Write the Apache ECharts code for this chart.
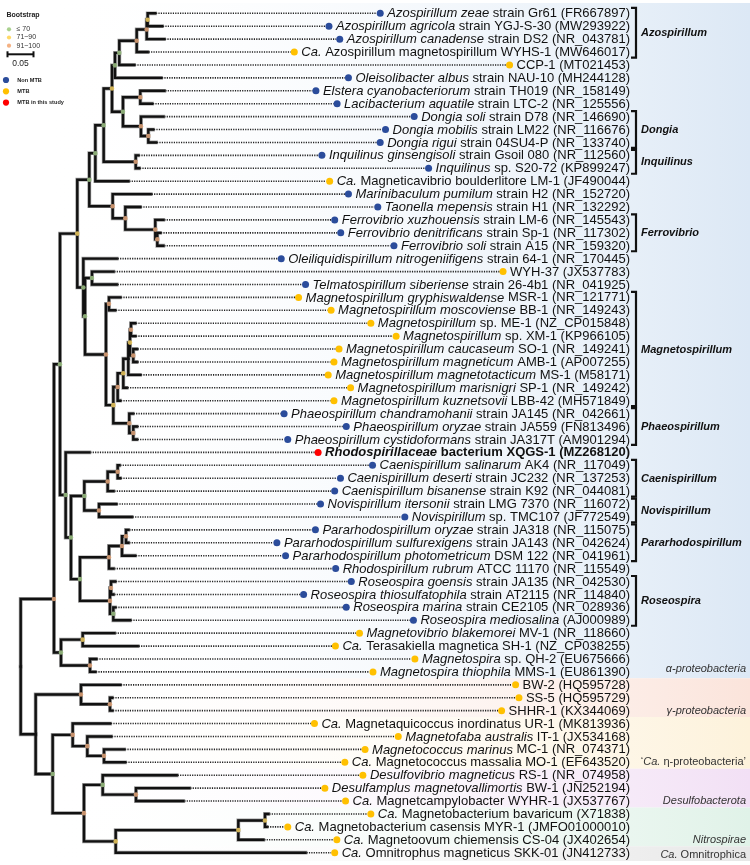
<!DOCTYPE html>
<html><head><meta charset="utf-8">
<script src="https://cdn.jsdelivr.net/npm/echarts@6/dist/echarts.min.js"></script>
<style>html,body{margin:0;padding:0;background:#fff}#c{width:750px;height:865px}</style>
</head><body><div id="c"></div>
<script>
// ---------------- DATA ----------------
const leafLabels = [
"{i|Azospirillum zeae} strain Gr61 (FR667897)",
"{i|Azospirillum agricola} strain YGJ-S-30 (MW293922)",
"{i|Azospirillum canadense} strain DS2 (NR_043781)",
"{i|Ca.} Azospirillum magnetospirillum WYHS-1 (MW646017)",
"CCP-1 (MT021453)",
"{i|Oleisolibacter albus} strain NAU-10 (MH244128)",
"{i|Elstera cyanobacteriorum} strain TH019 (NR_158149)",
"{i|Lacibacterium aquatile} strain LTC-2 (NR_125556)",
"{i|Dongia soli} strain D78 (NR_146690)",
"{i|Dongia mobilis} strain LM22 (NR_116676)",
"{i|Dongia rigui} strain 04SU4-P (NR_133740)",
"{i|Inquilinus ginsengisoli} strain Gsoil 080 (NR_112560)",
"{i|Inquilinus} sp. S20-72 (KP899247)",
"{i|Ca.} Magneticavibrio boulderlitore LM-1 (JF490044)",
"{i|Marinibaculum pumilum} strain H2 (NR_152720)",
"{i|Taonella mepensis} strain H1 (NR_132292)",
"{i|Ferrovibrio xuzhouensis} strain LM-6 (NR_145543)",
"{i|Ferrovibrio denitrificans} strain Sp-1 (NR_117302)",
"{i|Ferrovibrio soli} strain A15 (NR_159320)",
"{i|Oleiliquidispirillum nitrogeniifigens} strain 64-1 (NR_170445)",
"WYH-37 (JX537783)",
"{i|Telmatospirillum siberiense} strain 26-4b1 (NR_041925)",
"{i|Magnetospirillum gryphiswaldense} MSR-1 (NR_121771)",
"{i|Magnetospirillum moscoviense} BB-1 (NR_149243)",
"{i|Magnetospirillum} sp. ME-1 (NZ_CP015848)",
"{i|Magnetospirillum} sp. XM-1 (KP966105)",
"{i|Magnetospirillum caucaseum} SO-1 (NR_149241)",
"{i|Magnetospirillum magneticum} AMB-1 (AP007255)",
"{i|Magnetospirillum magnetotacticum} MS-1 (M58171)",
"{i|Magnetospirillum marisnigri} SP-1 (NR_149242)",
"{i|Magnetospirillum kuznetsovii} LBB-42 (MH571849)",
"{i|Phaeospirillum chandramohanii} strain JA145 (NR_042661)",
"{i|Phaeospirillum oryzae} strain JA559 (FN813496)",
"{i|Phaeospirillum cystidoformans} strain JA317T (AM901294)",
"{bi|Rhodospirillaceae}{b| bacterium XQGS-1 (MZ268120)}",
"{i|Caenispirillum salinarum} AK4 (NR_117049)",
"{i|Caenispirillum deserti} strain JC232 (NR_137253)",
"{i|Caenispirillum bisanense} strain K92 (NR_044081)",
"{i|Novispirillum itersonii} strain LMG 7370 (NR_116072)",
"{i|Novispirillum} sp. TMC107 (JF772549)",
"{i|Pararhodospirillum oryzae} strain JA318 (NR_115075)",
"{i|Pararhodospirillum sulfurexigens} strain JA143 (NR_042624)",
"{i|Pararhodospirillum photometricum} DSM 122 (NR_041961)",
"{i|Rhodospirillum rubrum} ATCC 11170 (NR_115549)",
"{i|Roseospira goensis} strain JA135 (NR_042530)",
"{i|Roseospira thiosulfatophila} strain AT2115 (NR_114840)",
"{i|Roseospira marina} strain CE2105 (NR_028936)",
"{i|Roseospira mediosalina} (AJ000989)",
"{i|Magnetovibrio blakemorei} MV-1 (NR_118660)",
"{i|Ca.} Terasakiella magnetica SH-1 (NZ_CP038255)",
"{i|Magnetospira} sp. QH-2 (EU675666)",
"{i|Magnetospira thiophila} MMS-1 (EU861390)",
"BW-2 (HQ595728)",
"SS-5 (HQ595729)",
"SHHR-1 (KX344069)",
"{i|Ca.} Magnetaquicoccus inordinatus UR-1 (MK813936)",
"{i|Magnetofaba australis} IT-1 (JX534168)",
"{i|Magnetococcus marinus} MC-1 (NR_074371)",
"{i|Ca.} Magnetococcus massalia MO-1 (EF643520)",
"{i|Desulfovibrio magneticus} RS-1 (NR_074958)",
"{i|Desulfamplus magnetovallimortis} BW-1 (JN252194)",
"{i|Ca.} Magnetcampylobacter WYHR-1 (JX537767)",
"{i|Ca.} Magnetobacterium bavaricum (X71838)",
"{i|Ca.} Magnetobacterium casensis MYR-1 (JMFO01000010)",
"{i|Ca.} Magnetoovum chiemensis CS-04 (JX402654)",
"{i|Ca.} Omnitrophus magneticus SKK-01 (JN412733)"
];
// 0 = Non MTB, 1 = MTB, 2 = MTB in this study
const leafTypes = [0,0,0,1,1,0,0,0,0,0,0,0,0,1,0,0,0,0,0,0,1,0,1,1,1,1,1,1,1,1,1,0,0,0,2,0,0,0,0,0,0,0,0,0,0,0,0,0,1,1,1,1,1,1,1,1,1,1,1,1,1,1,1,1,1,1];
// root-to-tip distance (substitutions per site)
const leafTips = [0.2583,0.2717,0.2756,0.2442,0.2179,0.2698,0.2762,0.2525,0.2742,0.2544,0.2602,0.2256,0.2275,0.2069,0.2500,0.2294,0.2742,0.2679,0.2742,0.1846,0.1781,0.1846,0.1910,0.1813,0.2198,0.2198,0.2231,0.2231,0.2294,0.2038,0.1910,0.2154,0.2231,0.2231,0.1319,0.1896,0.1910,0.1781,0.1833,0.2135,0.2069,0.2069,0.2198,0.1781,0.1813,0.1781,0.1813,0.2102,0.1800,0.2250,0.1448,0.1429,0.1910,0.1756,0.1756,0.1717,0.1737,0.1987,0.2006,0.3000,0.3242,0.3127,0.4762,0.4731,0.4665,0.5477];
// internal nodes: [id, root distance, bootstrap class (0 none, 1 <=70, 2 71~90, 3 91~100), child A, child B]
// a numeric child is a leaf number (1-based), a string child is a node id
const nodes = [
['root',0,0,'AF','AI'],['AF',0.0640,3,'AG','AH'],['AG',0.0756,1,'R','AA'],['R',0.1088,2,'n89','U'],
['n89',0.1319,1,'n95','P'],['n95',0.1435,1,'n103',14],['n103',0.1596,1,'n112','Inq'],['n112',0.1756,2,'n115','n123'],
['n115',0.1813,1,'n119',6],['n119',0.1896,1,'Nazo',5],['Nazo',0.2231,3,'Nzac',4],['Nzac',0.2423,3,'Nza',3],
['Nza',0.2442,2,1,2],['n123',0.1967,1,'EL','DO'],['EL',0.2300,3,7,8],['DO',0.2313,3,9,'DO2'],['DO2',0.2454,3,10,11],
['Inq',0.2212,3,12,13],['P',0.1769,3,15,'Q'],['Q',0.2012,3,16,'Fe'],['Fe',0.2588,3,17,'Fe2'],['Fe2',0.2627,3,18,19],
['U',0.1204,1,20,'V'],['V',0.1237,1,'WT','W'],['WT',0.1371,1,21,22],['W',0.1640,3,'MG','X'],['MG',0.1698,3,23,24],
['X',0.1781,2,'M1','PH'],['M1',0.1865,3,'M2',31],['M2',0.1973,2,'Y',30],['Y',0.2069,0,'M3',29],['M3',0.2102,2,'MX','MC'],
['MX',0.2121,3,25,26],['MC',0.2165,3,27,28],['PH',0.2088,3,32,'PH2'],['PH2',0.2165,3,33,34],
['AA',0.0865,1,35,'AB'],['AB',0.0967,1,'AC','AD'],['AC',0.1223,1,'CA','NO'],['CA',0.1673,3,'CA2',38],['CA2',0.1865,3,36,37],
['NO',0.1506,3,39,40],['AD',0.1140,1,'PR','RO'],['PR',0.1698,3,'PR2',44],['PR2',0.1948,3,'PR3',43],['PR3',0.2025,3,41,42],
['RO',0.1717,3,'RO1','RO2'],['RO1',0.1737,3,45,46],['RO2',0.1781,1,47,48],
['AH',0.0775,1,'MV','MS'],['MV',0.1192,2,49,50],['MS',0.1333,3,51,52],
['AI',0.0288,0,'G1','G2'],['G1',0.1160,3,53,'G1b'],['G1b',0.1717,3,54,55],['G2',0.0615,1,'ETA','DES'],
['ETA',0.1000,3,56,'ETA2'],['ETA2',0.1281,3,57,'ETA3'],['ETA3',0.1602,3,58,59],['DES',0.1217,3,'DS','NI'],
['DS',0.1577,1,60,'DS2'],['DS2',0.2217,3,61,62],['NI',0.1827,2,'NB',66],['NB',0.4185,2,'NB2',65],['NB2',0.4698,2,63,64]
];
// node drawn off its children's midpoint (row units)
const nodeRowOverride = {AF: 45.35};
// genus brackets: [name, first leaf, last leaf]
const cladeNames = ['Azospirillum','Dongia','Inquilinus','Ferrovibrio','Magnetospirillum','Phaeospirillum','Caenispirillum','Novispirillum','Pararhodospirillum','Roseospira'];
const cladeFirst = [1,9,12,17,23,32,36,39,41,45];
const cladeLast  = [4,11,13,19,31,34,38,40,43,48];
// taxonomic bands (row units) and labels
const phylumLabels = ['{i|α-proteobacteria}','{i|γ-proteobacteria}','{n|‘}{i|Ca.}{n| η-proteobacteria’}','{i|Desulfobacterota}','{i|Nitrospirae}','{i|Ca.}{n| Omnitrophica}'];
const phylumRows = [50.8, 54.0, 58.0, 61.0, 64.0, 65.15];
const bandStart = [-0.8, 51.5, 54.5, 58.5, 61.5, 64.5];
const bandEnd   = [51.5, 54.5, 58.5, 61.5, 64.5, 65.65];
const bandColors = ['#dce8f5','#fbe4db','#fdf2db','#f2e0f5','#e0f2e8','#e7e7e7'];
const supportNames = ['≤ 70','71~90','91~100'];
const supportColors = ['#a9d18e','#ffd966','#f4b183'];
const typeNames = ['Non MTB','MTB','MTB in this study'];
const typeColors = ['#2b4c9b','#ffc000','#ff0000'];
const scaleBar = [0.05];
const scaleBarLabel = '0.05';

// ---------------- LAYOUT / STYLE ----------------
const W = 750, H = 865;
const ROW0 = 13.3, ROWH = 12.914;     // px of first row, row spacing
const ROOTX = 20.7, PXPERUNIT = 520;  // px of root, px per unit distance
const LABEL_RIGHT = 630, GAP = 7, DOT_R = 3.5;
const BAND_LEFT = 37;
const FONT = '"Liberation Sans", Arial, Helvetica, sans-serif';

function mkRich(size, fill){
  const b = {fontFamily: FONT, fontSize: size, fill: fill, color: fill};
  return {n: {...b}, i: {...b, fontStyle:'italic'}, b: {...b, fontWeight:'bold'}, bi: {...b, fontWeight:'bold', fontStyle:'italic'}};
}
const RICH = mkRich(13, '#111');
const PRICH = mkRich(11, '#333');

function segments(label){
  const out = []; const re = /\{(\w+)\|([^}]*)\}|([^{]+)/g; let m;
  while ((m = re.exec(label))) { if (m[1]) out.push([m[1], m[2]]); else out.push(['n', m[3]]); }
  return out;
}
const ctx = document.createElement('canvas').getContext('2d');
function measure(segs, size){
  let w = 0;
  for (const [st, t] of segs){
    const it = st.indexOf('i') >= 0 ? 'italic ' : '';
    const bd = st.indexOf('b') >= 0 ? 'bold ' : '';
    ctx.font = it + bd + size + 'px ' + FONT;
    w += ctx.measureText(t).width;
  }
  return w;
}
const richTexts = leafLabels.map(l => segments(l).map(s => '{' + s[0] + '|' + s[1] + '}').join(''));
const labelWidths = leafLabels.map(l => measure(segments(l), 13));

// tree geometry
const nodeMap = {}; nodes.forEach(n => nodeMap[n[0]] = n);
const rowOf = {};
function row(id){
  if (typeof id === 'number') return id - 1;
  if (rowOf[id] !== undefined) return rowOf[id];
  const n = nodeMap[id];
  const r = nodeRowOverride[id] !== undefined ? nodeRowOverride[id] : (row(n[3]) + row(n[4])) / 2;
  rowOf[id] = r; return r;
}
function depth(id){ return typeof id === 'number' ? leafTips[id - 1] : nodeMap[id][1]; }
const edges = [];
nodes.forEach(n => { [n[3], n[4]].forEach(c => edges.push([n[1], row(n[0]), depth(c), row(c)])); });
const markers = nodes.filter(n => n[2] > 0).map(n => ({value: [n[1], row(n[0])], itemStyle: {color: supportColors[n[2] - 1]}}));
const leafData = leafTips.map((t, i) => [t, i]);

function branchRender(color, width){
  return function(params, api){
    const a = api.coord([api.value(0), api.value(1)]);
    const b = api.coord([api.value(0), api.value(3)]);
    const c = api.coord([api.value(2), api.value(3)]);
    return {type:'polyline', shape:{points:[a,b,c]}, style:{stroke:color, lineWidth:width, fill:null, lineCap:'square', lineJoin:'miter'}};
  };
}

const chart = echarts.init(document.getElementById('c'), null, {renderer:'canvas'});
const option = {
  animation: false,
  backgroundColor: '#fff',
  grid: {left:0, right:0, top:0, bottom:0},
  xAxis: {type:'value', min:-ROOTX / PXPERUNIT, max:(W - ROOTX) / PXPERUNIT, show:false},
  yAxis: {type:'value', inverse:true, min:-ROW0 / ROWH, max:(H - ROW0) / ROWH, show:false},
  series: [
    { // bands
      type:'custom', z:1, silent:true, clip:false,
      data: bandStart.map((s, i) => [s, bandEnd[i], i]),
      renderItem(params, api){
        const y1 = api.coord([0, api.value(0)])[1], y2 = api.coord([0, api.value(1)])[1];
        const col = bandColors[api.value(2)];
        return {type:'rect', shape:{x:BAND_LEFT, y:y1, width:W - BAND_LEFT, height:y2 - y1},
          style:{fill: new echarts.graphic.LinearGradient(0,0,1,0,[{offset:0,color:'rgba(255,255,255,0)'},{offset:1,color:col}])}};
      }
    },
    {type:'custom', z:2, silent:true, clip:false, data:edges, renderItem:branchRender('#9c9c9c', 3.8)},
    {type:'custom', z:3, silent:true, clip:false, data:edges, renderItem:branchRender('#111', 2.4)},
    {type:'scatter', z:4, silent:true, symbol:'circle', symbolSize:4.6, data:markers},
    { // leaves: dotted leader, dot, label
      type:'custom', z:5, silent:true, clip:false, data:leafData,
      renderItem(params, api){
        const i = params.dataIndex;
        const p = api.coord([api.value(0), api.value(1)]);
        const dotX = LABEL_RIGHT - labelWidths[i] - GAP;
        return {type:'group', children:[
          {type:'line', shape:{x1:p[0] + 1, y1:p[1], x2:dotX - DOT_R, y2:p[1]}, style:{stroke:'#222', lineWidth:1.6, lineDash:[1.2, 1.2]}},
          {type:'circle', shape:{cx:dotX, cy:p[1], r:DOT_R}, style:{fill:typeColors[leafTypes[i]]}},
          {type:'text', style:{x:LABEL_RIGHT, y:p[1] + 0.5, text:richTexts[i], rich:RICH, align:'right', verticalAlign:'middle', fill:'#111', fontSize:13, fontFamily:FONT}}
        ]};
      }
    },
    { // genus brackets
      type:'custom', z:6, silent:true, clip:false,
      data: cladeFirst.map((f, i) => [f - 1, cladeLast[i] - 1]),
      renderItem(params, api){
        const y1 = api.coord([0, api.value(0)])[1] - 5.5, y2 = api.coord([0, api.value(1)])[1] + 5.5;
        return {type:'group', children:[
          {type:'polyline', shape:{points:[[631,y1],[636,y1],[636,y2],[631,y2]]}, style:{stroke:'#111', lineWidth:2.2, fill:null}},
          {type:'text', style:{x:641, y:(y1 + y2) / 2 + 0.5, text:cladeNames[params.dataIndex], fontSize:11, fontWeight:'bold', fontStyle:'italic', fontFamily:FONT, fill:'#111', align:'left', verticalAlign:'middle'}}
        ]};
      }
    },
    { // phylum labels
      type:'custom', z:6, silent:true, clip:false,
      data: phylumRows.map(r => [0, r]),
      renderItem(params, api){
        const y = api.coord([0, api.value(1)])[1];
        const t = segments(phylumLabels[params.dataIndex]).map(s => '{' + s[0] + '|' + s[1] + '}').join('');
        return {type:'text', style:{x:746, y:y, text:t, rich:PRICH, align:'right', verticalAlign:'middle', fill:'#333', fontSize:11, fontFamily:FONT}};
      }
    },
    { // scale bar
      type:'custom', z:6, silent:true, clip:false,
      data: scaleBar.map(v => [v]),
      renderItem(params, api){
        const len = api.size([api.value(0), 0])[0];
        const x0 = 7.5, y0 = 54.3;
        return {type:'group', children:[
          {type:'line', shape:{x1:x0, y1:y0, x2:x0 + len, y2:y0}, style:{stroke:'#111', lineWidth:2}},
          {type:'line', shape:{x1:x0, y1:y0 - 3, x2:x0, y2:y0 + 3}, style:{stroke:'#111', lineWidth:2}},
          {type:'line', shape:{x1:x0 + len, y1:y0 - 3, x2:x0 + len, y2:y0 + 3}, style:{stroke:'#111', lineWidth:2}},
          {type:'text', style:{x:x0 + len / 2, y:63.5, text:scaleBarLabel, fontSize:8.5, fontFamily:FONT, fill:'#222', align:'center', verticalAlign:'middle'}}
        ]};
      }
    }
  ],
  graphic: [
    {type:'text', left:6.5, top:12, style:{text:'Bootstrap', fontSize:7, fontWeight:'bold', fontFamily:FONT, fill:'#222'}},
    ...supportNames.flatMap((nm, i) => [
      {type:'circle', shape:{cx:9, cy:29.3 + i * 8.2, r:2.1}, style:{fill:supportColors[i]}},
      {type:'text', x:16.5, y:29.3 + i * 8.2, style:{text:nm, fontSize:7, fontFamily:FONT, fill:'#333', align:'left', verticalAlign:'middle'}}
    ]),
    ...typeNames.flatMap((nm, i) => [
      {type:'circle', shape:{cx:6, cy:80 + i * 11.3, r:3.1}, style:{fill:typeColors[i]}},
      {type:'text', x:17.3, y:80 + i * 11.3, style:{text:nm, fontSize:5.6, fontWeight:'bold', fontFamily:FONT, fill:'#222', align:'left', verticalAlign:'middle'}}
    ])
  ]
};
chart.setOption(option);
</script>
</body></html>
